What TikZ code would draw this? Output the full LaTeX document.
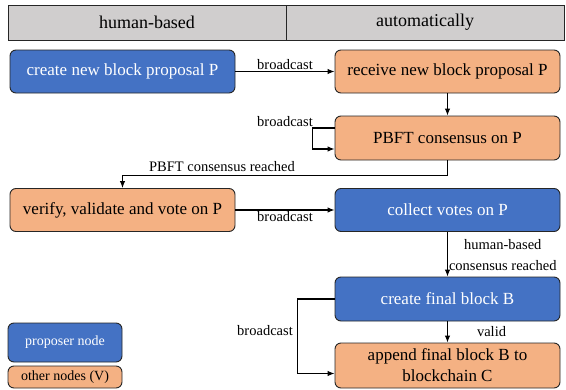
\documentclass[tikz,border=0pt]{standalone}
\usepackage{fontspec}
\setmainfont{Liberation Serif}
\newfontfamily\timesfam{Liberation Serif}
\usetikzlibrary{arrows.meta}
\definecolor{propblue}{HTML}{4472C4}
\definecolor{otherorange}{HTML}{F4B183}
\definecolor{headgray}{HTML}{D0CECE}

\begin{document}
\begin{tikzpicture}[x=1pt, y=-1pt,
  blk/.style={draw=black!85, line width=0.9pt, rounded corners=6pt, minimum width=225pt, minimum height=43pt, inner sep=2pt, align=center, font=\timesfam\fontsize{17}{21}\selectfont},
  prop/.style={blk, fill=propblue, text=white},
  other/.style={blk, fill=otherorange},
  legend/.style={blk, minimum width=114pt, font=\timesfam\fontsize{14}{16}\selectfont},
  head/.style={draw=black!85, line width=0.9pt, fill=headgray, minimum width=278pt, minimum height=35pt, font=\timesfam\fontsize{18}{21}\selectfont},
  lbl/.style={font=\timesfam\fontsize{14.5}{17}\selectfont, inner sep=1pt},
  flow/.style={-{Latex[length=7pt,width=5.5pt]}, line width=1.1pt}
]
\useasboundingbox (0,0) rectangle (566,389);
% header
\node[head] (H1) at (147,22.5) {human-based};
\node[head] (H2) at (425,22.5) {automatically};
% boxes
\node[prop] (create) at (122.5,71.5) {create new block proposal P};
\node[other] (recv) at (447.5,71.5) {receive new block proposal P};
\node[other, minimum height=44pt] (pbft) at (447.5,138) {PBFT consensus on P};
\node[other] (verify) at (122.5,210) {verify, validate and vote on P};
\node[prop] (collect) at (447.5,210) {collect votes on P};
\node[prop, minimum height=44pt] (final) at (447.5,299) {create final block B};
\node[other, minimum height=45pt] (append) at (447.5,365.5) {append final block B to\\blockchain C};
% legend
\node[legend, fill=propblue, text=white, minimum height=39pt] (lprop) at (65,342.5) {proposer node};
\node[legend, fill=otherorange, minimum height=22pt] (lother) at (65,377) {other nodes (V)};
% arrows
\draw[flow] (create) -- node[lbl, above] {broadcast} (recv);
\draw[flow] (recv) -- (pbft);
\draw[flow] ([yshift=10pt]pbft.west) -- ++(-22,0) |- ([yshift=-11pt]pbft.west);
\node[lbl, anchor=south east] (lloop) at (314,128) {broadcast};
\draw[flow] (pbft.south) -- ++(0,15) -| (verify.north);
\node[lbl, anchor=south] (lreach) at (222,173) {PBFT consensus reached};
\draw[flow] (verify) -- node[lbl, below] {broadcast} (collect);
\draw[flow] (collect) -- node[lbl, right, align=center, yshift=-1pt] {human-based\\[4pt]consensus reached} (final);
\draw[flow] (final) -- node[lbl, right=28pt] {valid} (append);
\draw[flow] (final.west) -- ++(-37,0) |- ([yshift=-8pt]append.west);
\node[lbl, anchor=east] (lbc) at (294,331) {broadcast};
\end{tikzpicture}
\end{document}
